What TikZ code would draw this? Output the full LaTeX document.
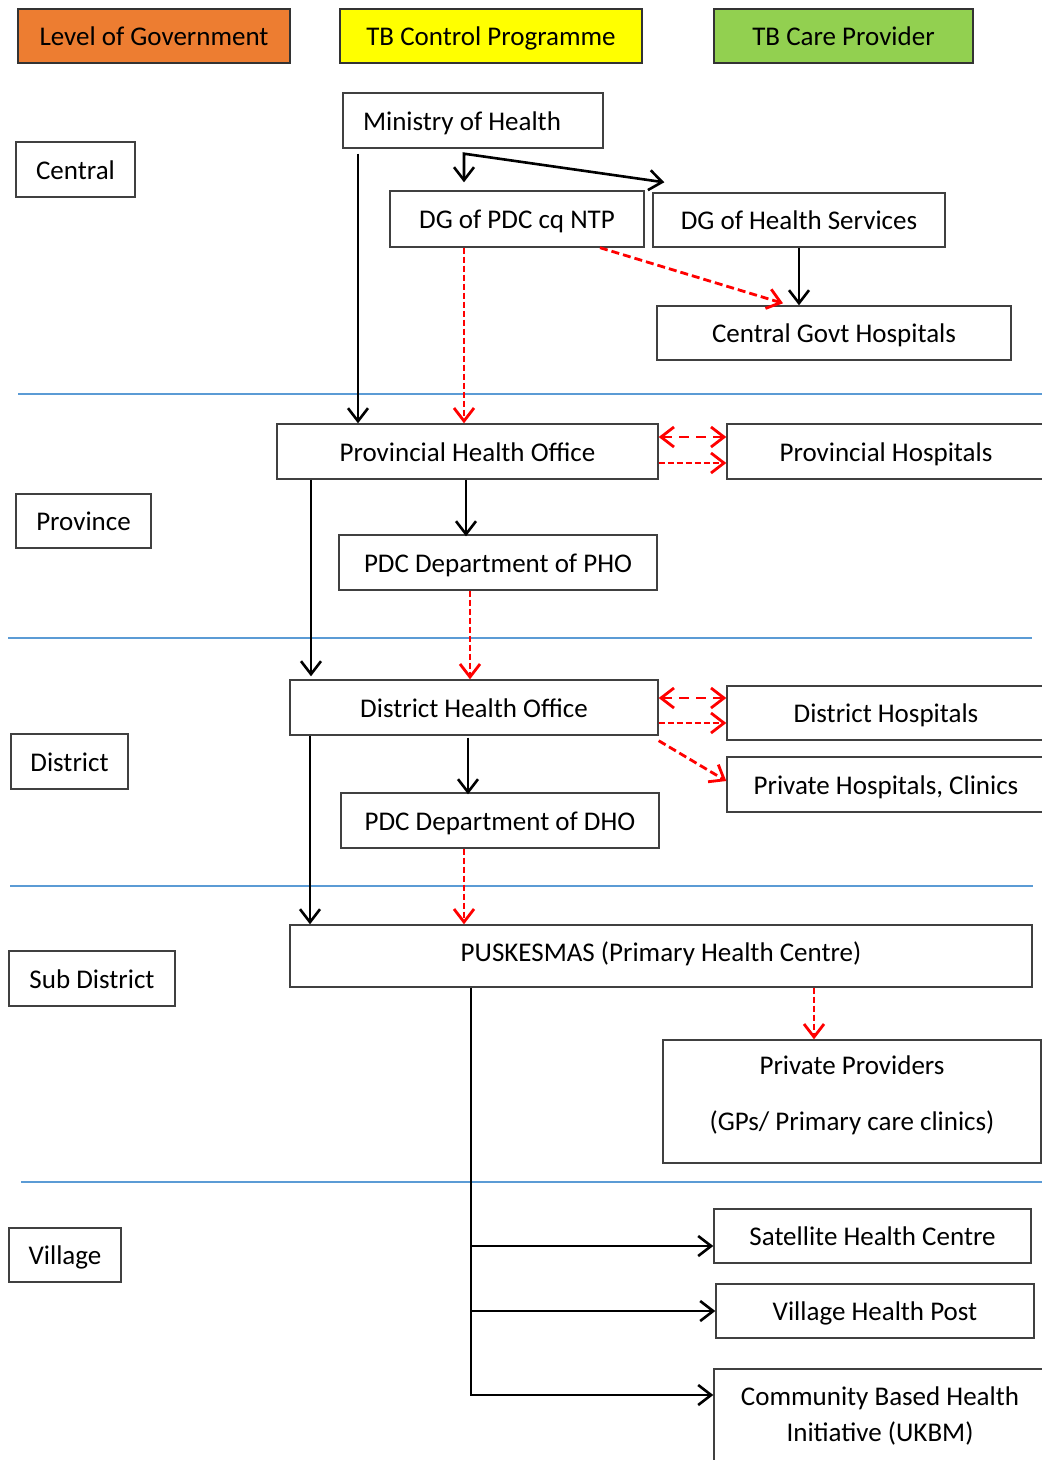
\documentclass[tikz,border=0pt]{standalone}
\usepackage{fontspec}
\setmainfont{Carlito}
\usetikzlibrary{arrows.meta}
\definecolor{legOrange}{HTML}{ED7D31}
\definecolor{legYellow}{HTML}{FFFF00}
\definecolor{legGreen}{HTML}{92D050}
\definecolor{sepBlue}{HTML}{5B9BD5}
\definecolor{boxGray}{HTML}{404040}
\begin{document}
\begin{tikzpicture}[x=1pt,y=-1pt,
  mbox/.style={draw=boxGray, line width=1.4pt, inner sep=0pt, align=center,
    font=\fontsize{27}{33}\selectfont},
  box/.style={mbox, text height=22pt, text depth=2.6pt},
  legend/.style={box, draw=black!80},
  sep/.style={draw=sepBlue, line width=2pt},
  tip/.tip={Straight Barb[length=13pt,width=20pt]},
  blk/.style={draw=black, line width=2.6pt, -tip},
  blkboth/.style={draw=black, line width=2.6pt, tip-tip},
  rda/.style={draw=red, line width=2.8pt, dash pattern=on 6pt off 3pt, -tip},
  rdiag/.style={draw=red, line width=2.8pt, dash pattern=on 8pt off 4pt, -tip},
  rdd/.style={draw=red, line width=2.8pt, dash pattern=on 10pt off 7pt, tip-tip},
]
\useasboundingbox (0,0) rectangle (1042,1460);
\clip (0,0) rectangle (1042,1460);
\fill[white] (0,0) rectangle (1042,1460);

% legend
\node[legend, fill=legOrange, minimum width=272pt, minimum height=54pt] (lg1) at (154,36) {Level of Government};
\node[legend, fill=legYellow, minimum width=302pt, minimum height=54pt] (lg2) at (491,36) {TB Control Programme};
\node[legend, fill=legGreen, minimum width=259pt, minimum height=54pt] (lg3) at (843.5,36) {TB Care Provider};

% separators
\draw[sep] (18,394) -- (1042,394);
\draw[sep] (8,638) -- (1032,638);
\draw[sep] (10,886) -- (1033,886);
\draw[sep] (21,1182) -- (1042,1182);

% level labels
\node[box, minimum width=119pt, minimum height=55pt] (lcen) at (75.5,169.5) {Central};
\node[box, minimum width=135pt, minimum height=54pt] (lprov) at (83.5,521) {Province};
\node[box, minimum width=117pt, minimum height=55pt] (ldist) at (69.5,761.5) {District};
\node[box, minimum width=166pt, minimum height=55pt] (lsub) at (92,978.5) {Sub District};
\node[box, minimum width=112pt, minimum height=54pt] (lvil) at (65,1255) {Village};

% central
\node[box, minimum width=260pt, minimum height=55pt, text width=220pt, align=flush left] (moh) at (473,120.5) {Ministry of Health};
\node[box, minimum width=254pt, minimum height=56pt] (dgp) at (517,219) {DG of PDC cq NTP};
\node[box, minimum width=292pt, minimum height=54pt] (dgh) at (799,220) {DG of Health Services};
\node[box, minimum width=354pt, minimum height=54pt] (cgh) at (834,333) {Central Govt Hospitals};

% province
\node[box, minimum width=381pt, minimum height=55pt] (pho) at (467.5,451.5) {Provincial Health Office};
\node[box, minimum width=318pt, minimum height=55pt] (phh) at (886,451.5) {Provincial Hospitals};
\node[box, minimum width=318pt, minimum height=55pt] (pdcp) at (498,562.5) {PDC Department of PHO};

% district
\node[box, minimum width=368pt, minimum height=55pt] (dho) at (474,707.5) {District Health Office};
\node[box, minimum width=318pt, minimum height=54pt] (dh) at (886,713) {District Hospitals};
\node[box, minimum width=318pt, minimum height=55pt] (phc) at (886,784.5) {Private Hospitals, Clinics};
\node[box, minimum width=318pt, minimum height=55pt] (pdcd) at (500,820.5) {PDC Department of DHO};

% sub district
\node[box, text height=21pt, text depth=10.6pt, minimum width=742pt, minimum height=62pt] (pus) at (661,956) {PUSKESMAS (Primary Health Centre)};
\node[mbox, minimum width=378pt, minimum height=123pt, font=\fontsize{27}{56}\selectfont] (pp) at (852,1101.5) {Private Providers\\(GPs/ Primary care clinics)\rule[-16pt]{0pt}{1pt}};

% village
\node[box, minimum width=317pt, minimum height=54pt] (shc) at (872.5,1236) {Satellite Health Centre};
\node[box, minimum width=318pt, minimum height=54pt] (vhp) at (875,1311) {Village Health Post};
\node[mbox, minimum width=332pt, minimum height=93pt, font=\fontsize{27}{36}\selectfont] (cbh) at (880,1415.5) {Community Based Health\\Initiative (UKBM)};

% connectors central
\coordinate (a1) at ([xshift=-115pt,yshift=-5pt]moh.south);
\draw[blk] (a1) -- (a1 |- pho.north);
\coordinate (c0) at ([xshift=-9pt,yshift=-5pt]moh.south);
\draw[blkboth] ([yshift=8pt]c0 |- dgp.north) -- (c0) -- ([xshift=12pt,yshift=10pt]dgh.north west);
\draw[rda] ([xshift=-53pt]dgp.south) -- ([xshift=-53pt]dgp.south |- pho.north);
\draw[rdiag] ([xshift=83pt]dgp.south) -- ([xshift=-51pt,yshift=2pt]cgh.north);
\draw[blk] (dgh.south) -- (dgh.south |- cgh.north);

% connectors province
\draw[rdd] ([yshift=14.5pt]pho.east) -- ([yshift=14.5pt]phh.west);
\draw[rda] ([yshift=-11.5pt]pho.east) -- ([yshift=-11.5pt]phh.west);
\draw[blk] ([xshift=-1.5pt]pho.south) -- ([xshift=-1.5pt,yshift=-2pt]pho.south |- pdcp.north);
\draw[blk] ([xshift=-156.5pt]pho.south) -- ([xshift=-156.5pt,yshift=3pt]pho.south |- dho.north);
\draw[rda] ([xshift=-28pt]pdcp.south) -- ([xshift=-28pt]pdcp.south |- dho.north);

% connectors district
\draw[rdd] ([yshift=9.5pt]dho.east) -- ([yshift=9.5pt]dho.east -| dh.west);
\draw[rda] ([yshift=-15.5pt]dho.east) -- ([yshift=-15.5pt]dho.east -| dh.west);
\draw[rdiag] ([yshift=-5pt]dho.south east) -- ([yshift=3.5pt]phc.west);
\draw[blk] ([xshift=-6pt,yshift=-2pt]dho.south) -- ([xshift=-6pt,yshift=-2pt]dho.south |- pdcd.north);
\draw[blk] ([xshift=-164pt]dho.south) -- ([xshift=-164pt]dho.south |- pus.north);
\draw[rda] ([xshift=-36pt]pdcd.south) -- ([xshift=-36pt]pdcd.south |- pus.north);

% connectors sub district / village
\draw[rda] ([xshift=153pt]pus.south) -- ([xshift=153pt]pus.south |- pp.north);
\coordinate (t) at ([xshift=-190pt]pus.south);
\draw[blk] (t) -- ([yshift=20.5pt]t |- cbh.west) -- ([yshift=20.5pt]cbh.west);
\draw[blk] ([yshift=-10pt]t |- shc.west) -- ([yshift=-10pt]shc.west);
\draw[blk] (t |- vhp.west) -- (vhp.west);
\end{tikzpicture}
\end{document}
